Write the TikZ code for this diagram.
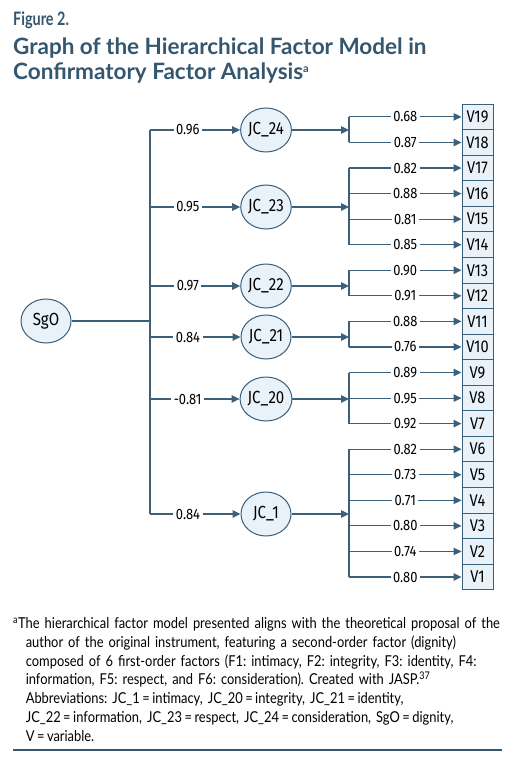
\documentclass[tikz,border=0pt]{standalone}
\usepackage{fontspec}
\setmainfont{Lato}
\newfontfamily\figfont[FakeStretch=0.86]{Fira Sans}
\newfontfamily\condfont[FakeStretch=0.78]{Lato}
\newfontfamily\notefont[FakeStretch=0.86]{Lato}
\usetikzlibrary{arrows.meta,shapes.geometric}
\definecolor{navy}{RGB}{52,86,110}
\definecolor{edge}{RGB}{60,95,122}
\definecolor{paleblue}{RGB}{233,241,249}

\begin{document}
\begin{tikzpicture}[x=1pt,y=-1pt,
    latent/.style={ellipse,draw=edge,fill=paleblue,line width=1pt,
                   minimum width=50,minimum height=44,inner sep=0pt,
                   font=\figfont\fontsize{17.5}{19}\selectfont},
    obs/.style={rectangle,draw=edge,fill=paleblue,line width=1pt,
                minimum width=31,minimum height=25.56,inner sep=0pt,
                font=\figfont\fontsize{17}{19}\selectfont},
    load/.style={fill=white,inner xsep=2.5pt,inner ysep=1pt,
                 font=\figfont\fontsize{15}{16}\selectfont},
    wire/.style={draw=edge,line width=1.1pt},
    arrowto/.style={wire,-{Triangle[length=8pt,width=7.5pt]}},
    heading/.style={anchor=base west,inner sep=0pt,text=navy}]
  \useasboundingbox (0,0) rectangle (515,762);

  % title
  \node[heading,font=\condfont\bfseries\fontsize{18.5}{20}\selectfont]
    (fig) at (13,26) {Figure 2.};
  \node[heading,font=\bfseries\fontsize{22.5}{25}\selectfont]
    (title1) at (13,55) {Graph of the Hierarchical Factor Model in};
  \node[heading,font=\bfseries\fontsize{22.5}{25}\selectfont]
    (title2) at (13,80) {Confirmatory Factor Analysis\textsuperscript{\fontsize{11}{12}\selectfont a}};

  % second-order factor
  \node[latent] (sgo) at (46,321) {SgO};
  \coordinate (split) at (150,321);
  \draw[wire] (sgo) -- (split);

  % observed variables
  \foreach \i in {1,...,19}
    \node[obs] (v\i) at (477.5,{577-(\i-1)*25.56}) {V\i};

  % first-order factors
  \foreach \jc/\y/\load/\first/\last in {24/130/0.96/19/18,
      23/207/0.95/17/14, 22/286/0.97/13/12, 21/337/0.84/11/10,
      20/399/-0.81/9/7, 1/514/0.84/6/1} {
    \node[latent] (jc\jc) at (266,\y) {JC\_\jc};
    \coordinate (b\jc) at (349,\y);
    \draw[arrowto] (jc\jc) -- (b\jc);
    \draw[wire] (b\jc |- v\first) -- (b\jc |- v\last);
    \draw[arrowto] (split |- jc\jc) -- node[load,pos=0.42] {\load} (jc\jc);
  }
  \draw[wire] (split |- jc24) -- (split |- jc1);

  % loadings
  \foreach \v/\jc/\load in {19/24/0.68, 18/24/0.87,
      17/23/0.82, 16/23/0.88, 15/23/0.81, 14/23/0.85,
      13/22/0.90, 12/22/0.91, 11/21/0.88, 10/21/0.76,
      9/20/0.89, 8/20/0.95, 7/20/0.92,
      6/1/0.82, 5/1/0.73, 4/1/0.71, 3/1/0.80, 2/1/0.74, 1/1/0.80}
    \draw[arrowto] (b\jc |- v\v) -- node[load] {\load} (v\v);

  % footnote
  \node[anchor=north west,inner sep=0pt,text width=500,align=left,
        font=\notefont\fontsize{15}{18.9}\selectfont\frenchspacing] (note) at (13,617)
    {\textsuperscript{a}The hierarchical factor model presented aligns with the theoretical proposal of the\\
     \hspace*{12.6pt}author of the original instrument, featuring a second-order factor (dignity)\\
     \hspace*{12.6pt}composed of 6 first-order factors (F1: intimacy, F2: integrity, F3: identity, F4:\\
     \hspace*{12.6pt}information, F5: respect, and F6: consideration). Created with JASP.\textsuperscript{37}\\
     \hspace*{12.6pt}Abbreviations: JC\_1\,=\,intimacy, JC\_20\,=\,integrity, JC\_21\,=\,identity,\\
     \hspace*{12.6pt}JC\_22\,=\,information, JC\_23\,=\,respect, JC\_24\,=\,consideration, SgO\,=\,dignity,\\
     \hspace*{12.6pt}V\,=\,variable.};
  \draw[navy,line width=1.5pt] (13,750) -- (502,750);
\end{tikzpicture}
\end{document}
